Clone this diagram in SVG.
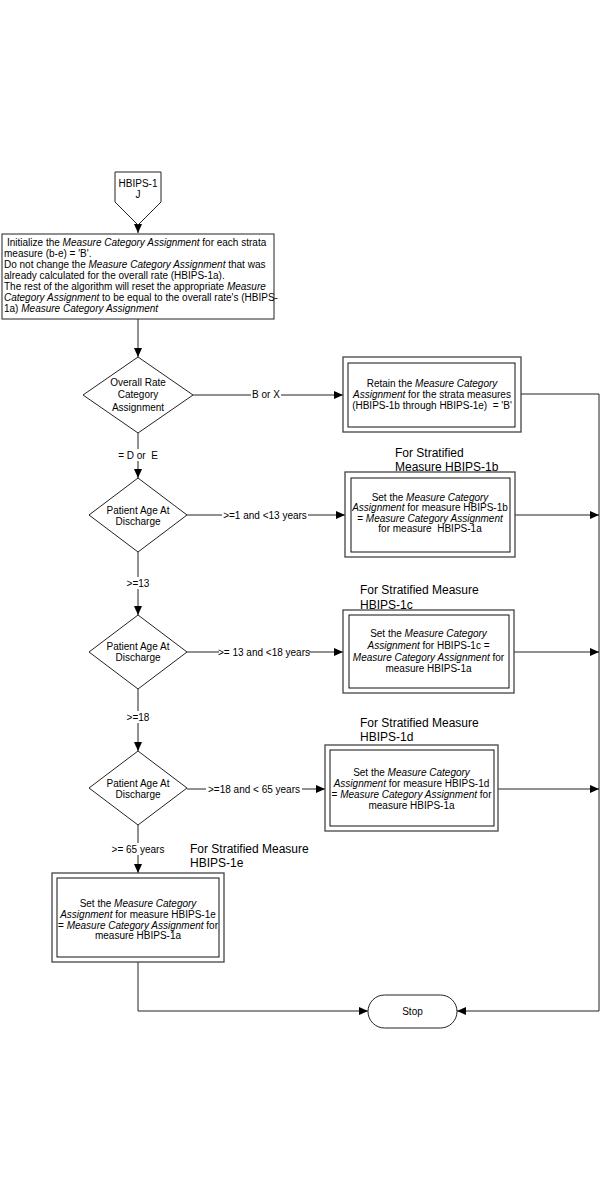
<svg xmlns="http://www.w3.org/2000/svg" width="601" height="1201" viewBox="0 0 601 1201">
<defs>
<marker id="arr" markerWidth="9" markerHeight="8" refX="9" refY="4" orient="auto" markerUnits="userSpaceOnUse">
<path d="M0,0 L9,4 L0,8 z" fill="#000"/>
</marker>
<style>
.t{font-family:"Liberation Sans",Arial,sans-serif;font-size:10px;fill:#000}
.c{text-anchor:middle}
.big{font-family:"Liberation Sans",Arial,sans-serif;font-size:12px;fill:#000}
.ln{fill:none;stroke:#222;stroke-width:1}
.box{fill:#fff;stroke:#222;stroke-width:1}
.outer{fill:#fff;stroke:#444;stroke-width:1.3}
.inner{fill:#fff;stroke:#111;stroke-width:1}
.bg{fill:#fff}
</style>
</defs>
<rect width="601" height="1201" fill="#fff"/>

<g id="connectors">
<path class="ln" d="M138,225 V233" marker-end="url(#arr)"/>
<path class="ln" d="M138,319 V357" marker-end="url(#arr)"/>
<path class="ln" d="M193,395 H343" marker-end="url(#arr)"/>
<path class="ln" d="M138,433 V478" marker-end="url(#arr)"/>
<path class="ln" d="M187,515 H345" marker-end="url(#arr)"/>
<path class="ln" d="M138,552 V615" marker-end="url(#arr)"/>
<path class="ln" d="M187,652 H343" marker-end="url(#arr)"/>
<path class="ln" d="M138,689 V751" marker-end="url(#arr)"/>
<path class="ln" d="M187,789 H325" marker-end="url(#arr)"/>
<path class="ln" d="M138,825 V873" marker-end="url(#arr)"/>
<path class="ln" d="M521,394 H599 V1011 H457" marker-end="url(#arr)"/>
<path class="ln" d="M515,515 H599" marker-end="url(#arr)"/>
<path class="ln" d="M514,652 H599" marker-end="url(#arr)"/>
<path class="ln" d="M498,789 H599" marker-end="url(#arr)"/>
<path class="ln" d="M138,962 V1011 H368" marker-end="url(#arr)"/>
<rect class="bg" x="251" y="388" width="30" height="12"/>
<text class="t c" x="266" y="397.5">B or X</text>
<rect class="bg" x="117" y="449" width="42" height="12"/>
<text class="t c" x="138" y="458.5" xml:space="preserve">= D or  E</text>
<rect class="bg" x="222" y="509" width="86" height="12"/>
<text class="t c" x="265" y="518.5">&gt;=1 and &lt;13 years</text>
<rect class="bg" x="124" y="577" width="28" height="12"/>
<text class="t c" x="138" y="586.5">&gt;=13</text>
<rect class="bg" x="219" y="646" width="90" height="12"/>
<text class="t c" x="264" y="655.5">&gt;= 13 and &lt;18 years</text>
<rect class="bg" x="124" y="711" width="28" height="12"/>
<text class="t c" x="138" y="720.5">&gt;=18</text>
<rect class="bg" x="206" y="783" width="96" height="12"/>
<text class="t c" x="254" y="792.5">&gt;=18 and &lt; 65 years</text>
<rect class="bg" x="110" y="843" width="56" height="12"/>
<text class="t c" x="138" y="852.5">&gt;= 65 years</text>
</g>

<g id="start">
<polygon class="box" points="115,172 161,172 161,202 138,225 115,202"/>
<text class="t c" x="138" y="186.5">HBIPS-1</text>
<text class="t c" x="138" y="197.5">J</text>
</g>

<g id="init">
<rect class="box" x="2" y="234" width="272" height="85"/>
<text class="t" x="7" y="245.5">Initialize the <tspan font-style="italic">Measure Category Assignment</tspan> for each strata</text>
<text class="t" x="4" y="256.5">measure (b-e) = 'B'.</text>
<text class="t" x="4" y="267.5">Do not change the <tspan font-style="italic">Measure Category Assignment</tspan> that was</text>
<text class="t" x="4" y="278.5">already calculated for the overall rate (HBIPS-1a).</text>
<text class="t" x="4" y="289.5">The rest of the algorithm will reset the appropriate <tspan font-style="italic">Measure</tspan></text>
<text class="t" x="4" y="300.5"><tspan font-style="italic">Category Assignment</tspan> to be equal to the overall rate's (HBIPS-</text>
<text class="t" x="4" y="311.5">1a) <tspan font-style="italic">Measure Category Assignment</tspan></text>
</g>

<g id="d1">
<polygon class="box" points="138,357 193,395 138,433 83,395"/>
<text class="t c" x="138" y="385.5">Overall Rate</text>
<text class="t c" x="138" y="398">Category</text>
<text class="t c" x="138" y="410.5">Assignment</text>
</g>

<g id="retain">
<rect class="outer" x="343" y="357" width="178" height="75"/>
<rect class="inner" x="348" y="363" width="167" height="64"/>
<text class="t c" x="432" y="386.5">Retain the <tspan font-style="italic">Measure Category</tspan></text>
<text class="t c" x="432" y="397.5"><tspan font-style="italic">Assignment</tspan> for the strata measures</text>
<text class="t c" x="432" y="408.5" xml:space="preserve">(HBIPS-1b through HBIPS-1e)  = 'B'</text>
</g>

<g id="d2">
<polygon class="box" points="138,478 187,515 138,552 89,515"/>
<text class="t c" x="138" y="513.5">Patient Age At</text>
<text class="t c" x="138" y="524.5">Discharge</text>
</g>

<g id="s1b">
<text class="big" x="395" y="457">For Stratified</text>
<text class="big" x="395" y="471">Measure HBIPS-1b</text>
<rect class="outer" x="345" y="472" width="170" height="85"/>
<rect class="inner" x="351" y="478" width="159" height="74"/>
<text class="t c" x="430" y="500.5">Set the <tspan font-style="italic">Measure Category</tspan></text>
<text class="t c" x="430" y="511"><tspan font-style="italic">Assignment</tspan> for measure HBIPS-1b</text>
<text class="t c" x="430" y="521.5">= <tspan font-style="italic">Measure Category Assignment</tspan></text>
<text class="t c" x="430" y="532" xml:space="preserve">for measure  HBIPS-1a</text>
</g>

<g id="d3">
<polygon class="box" points="138,615 187,652 138,689 89,652"/>
<text class="t c" x="138" y="649.5">Patient Age At</text>
<text class="t c" x="138" y="660.5">Discharge</text>
</g>

<g id="s1c">
<text class="big" x="360" y="594">For Stratified Measure</text>
<text class="big" x="360" y="609">HBIPS-1c</text>
<rect class="outer" x="343" y="610" width="171" height="83"/>
<rect class="inner" x="349" y="615" width="160" height="73"/>
<text class="t c" x="428.5" y="636.5">Set the <tspan font-style="italic">Measure Category</tspan></text>
<text class="t c" x="428.5" y="648.5"><tspan font-style="italic">Assignment</tspan> for HBIPS-1c =</text>
<text class="t c" x="428.5" y="660.5"><tspan font-style="italic">Measure Category Assignment</tspan> for</text>
<text class="t c" x="428.5" y="672">measure HBIPS-1a</text>
</g>

<g id="d4">
<polygon class="box" points="138,751 187,788 138,825 89,788"/>
<text class="t c" x="138" y="786.5">Patient Age At</text>
<text class="t c" x="138" y="797.5">Discharge</text>
</g>

<g id="s1d">
<text class="big" x="360" y="727">For Stratified Measure</text>
<text class="big" x="360" y="741">HBIPS-1d</text>
<rect class="outer" x="325" y="745" width="173" height="86"/>
<rect class="inner" x="330" y="750" width="164" height="76"/>
<text class="t c" x="411.5" y="775.5">Set the <tspan font-style="italic">Measure Category</tspan></text>
<text class="t c" x="411.5" y="786.5"><tspan font-style="italic">Assignment</tspan> for measure HBIPS-1d</text>
<text class="t c" x="411.5" y="797.5">= <tspan font-style="italic">Measure Category Assignment</tspan> for</text>
<text class="t c" x="411.5" y="808.5">measure HBIPS-1a</text>
</g>

<g id="s1e">
<text class="big" x="190" y="853">For Stratified Measure</text>
<text class="big" x="190" y="867">HBIPS-1e</text>
<rect class="outer" x="52" y="873" width="172" height="89"/>
<rect class="inner" x="57" y="878" width="162" height="79"/>
<text class="t c" x="138" y="906.5">Set the <tspan font-style="italic">Measure Category</tspan></text>
<text class="t c" x="138" y="917.5"><tspan font-style="italic">Assignment</tspan> for measure HBIPS-1e</text>
<text class="t c" x="138" y="928.5">= <tspan font-style="italic">Measure Category Assignment</tspan> for</text>
<text class="t c" x="138" y="939">measure HBIPS-1a</text>
</g>

<g id="stop">
<rect class="box" x="368" y="995" width="89" height="33" rx="16.5" ry="16.5"/>
<text class="t c" x="412.5" y="1014.5">Stop</text>
</g>
</svg>
